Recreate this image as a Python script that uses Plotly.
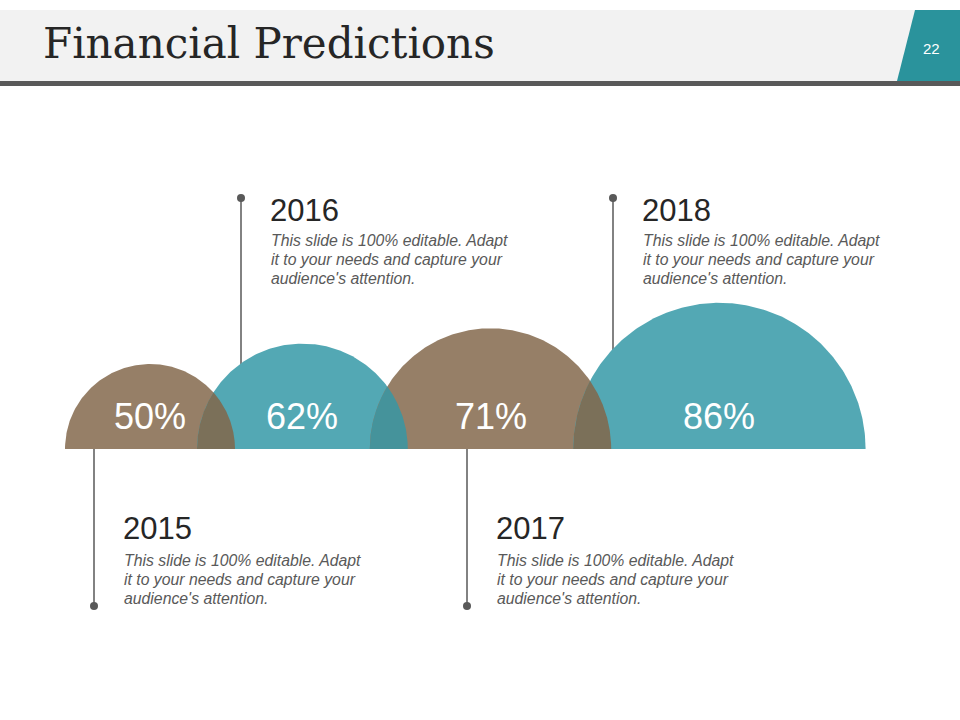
import numpy as np
import plotly.graph_objects as go

# ---------------- data ----------------
years = ["2015", "2016", "2017", "2018"]
values = [50, 62, 71, 86]
percent_labels = ["50%", "62%", "71%", "86%"]
description_lines = [
    "This slide is 100% editable. Adapt",
    "it to your needs and capture your",
    "audience's attention.",
]
title_text = "Financial Predictions"
page_number = "22"

# ---------------- style / layout constants ----------------
W, H = 960, 720
BROWN = "#967F67"
TEAL = "#53A8B4"
OVER_BT = "#7B7059"   # brown over teal overlap
OVER_TB = "#45939B"   # teal over brown overlap
GRAY = "#595959"
colors = [BROWN, TEAL, BROWN, TEAL]
overlap_colors = [OVER_BT, OVER_TB, OVER_BT]

BASE_Y = 449         # baseline of the half circles
LEFT_X = 65          # left edge of first half circle
R_SCALE = 1.7        # pixels of radius per percent
OVERLAP = 38         # horizontal overlap between neighbours
text_x = [124, 271, 497, 643]
above = [False, True, False, True]
LINE_GAP = 19

radii = [v * R_SCALE for v in values]
centers = []
for i, r in enumerate(radii):
    if i == 0:
        c = LEFT_X + r
    else:
        c = centers[-1] + radii[i - 1] + r - OVERLAP
    centers.append(c)


def half_circle(cx, r, n=200):
    t = np.linspace(0, np.pi, n)
    xs = cx + r * np.cos(t)
    ys = BASE_Y - r * np.sin(t)
    return np.r_[xs, xs[0]], np.r_[ys, ys[0]]


def lens(ca, ra, cb, rb, n=2000):
    # circle a on left, b on right
    t = np.linspace(np.pi, 0, n)
    bx, by = cb + rb * np.cos(t), BASE_Y - rb * np.sin(t)
    inside_a = (bx - ca) ** 2 + (by - BASE_Y) ** 2 <= ra ** 2
    ax_, ay_ = ca + ra * np.cos(t), BASE_Y - ra * np.sin(t)
    inside_b = (ax_ - cb) ** 2 + (ay_ - BASE_Y) ** 2 <= rb ** 2
    xs = np.r_[bx[inside_a], ax_[inside_b]]
    ys = np.r_[by[inside_a], ay_[inside_b]]
    return np.r_[xs, xs[0]], np.r_[ys, ys[0]]


fig = go.Figure()

# leader lines with dots
for i in range(4):
    lx = text_x[i] - 30
    y_dot = 198 if above[i] else 606
    fig.add_trace(go.Scatter(x=[lx, lx], y=[BASE_Y, y_dot], mode="lines",
                             line=dict(color=GRAY, width=1.5), hoverinfo="skip"))
    fig.add_trace(go.Scatter(x=[lx], y=[y_dot], mode="markers",
                             marker=dict(color=GRAY, size=8), hoverinfo="skip"))

# half circles
for i in range(4):
    xs, ys = half_circle(centers[i], radii[i])
    fig.add_trace(go.Scatter(x=xs, y=ys, mode="lines", fill="toself",
                             fillcolor=colors[i], line=dict(width=0),
                             hoverinfo="skip"))

# overlaps
for i in range(3):
    xs, ys = lens(centers[i], radii[i], centers[i + 1], radii[i + 1])
    fig.add_trace(go.Scatter(x=xs, y=ys, mode="lines", fill="toself",
                             fillcolor=overlap_colors[i], line=dict(width=0),
                             hoverinfo="skip"))

annotations = []
for i in range(4):
    annotations.append(dict(x=centers[i], y=416, text=percent_labels[i], showarrow=False,
                            xanchor="center", yanchor="middle",
                            font=dict(family="Liberation Sans, Arial", size=36, color="white")))
    if above[i]:
        yy, yb = 210, 240
    else:
        yy, yb = 528, 560
    annotations.append(dict(x=text_x[i] - 3, y=yy, text=years[i], showarrow=False,
                            xanchor="left", yanchor="middle",
                            font=dict(family="Liberation Sans, Arial", size=31, color="#262626")))
    for k, line in enumerate(description_lines):
        annotations.append(dict(x=text_x[i] - 2, y=yb + k * LINE_GAP, text="<i>" + line + "</i>",
                                showarrow=False, xanchor="left", yanchor="middle", align="left",
                                font=dict(family="Liberation Sans, Arial", size=15.8, color=GRAY)))

annotations.append(dict(x=41, y=43, text=title_text, showarrow=False, xanchor="left",
                        yanchor="middle",
                        font=dict(family="DejaVu Serif", size=42, color="#262626")))
annotations.append(dict(x=931, y=48, text=page_number, showarrow=False, xanchor="center",
                        yanchor="middle",
                        font=dict(family="Liberation Sans, Arial", size=15, color="white")))

shapes = [
    dict(type="rect", x0=0, x1=W, y0=10, y1=81, fillcolor="#F2F2F2", line_width=0, layer="below"),
    dict(type="rect", x0=0, x1=W, y0=81, y1=86, fillcolor=GRAY, line_width=0, layer="below"),
    dict(type="path", path="M 915 10 L 960 10 L 960 81 L 897 81 Z",
         fillcolor="#2A939C", line_width=0, layer="below"),
]

fig.update_layout(
    width=W, height=H, margin=dict(l=0, r=0, t=0, b=0),
    paper_bgcolor="white", plot_bgcolor="white", showlegend=False,
    xaxis=dict(range=[0, W], visible=False, fixedrange=True),
    yaxis=dict(range=[H, 0], visible=False, fixedrange=True),
    annotations=annotations, shapes=shapes,
)

fig.write_html("out.html")
